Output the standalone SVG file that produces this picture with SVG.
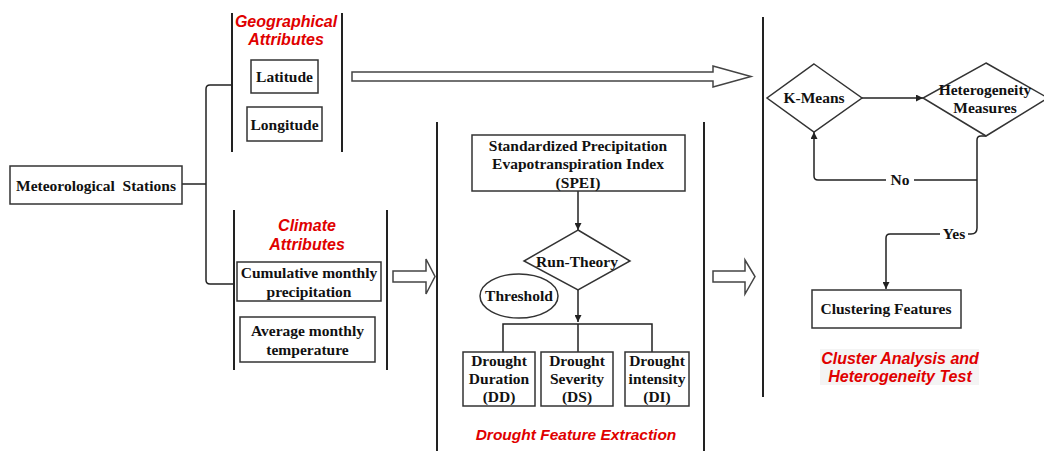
<svg xmlns="http://www.w3.org/2000/svg" width="1044" height="451" viewBox="0 0 1044 451">
<defs>
<marker id="ah" viewBox="0 0 10 10" refX="10" refY="5" markerWidth="7" markerHeight="7" markerUnits="userSpaceOnUse" orient="auto"><path d="M0,0 L10,5 L0,10 z" fill="#222"/></marker>
<style>
.box{fill:#fff;stroke:#333;stroke-width:1.5}
.bar{stroke:#222;stroke-width:2;fill:none}
.ln{stroke:#222;stroke-width:1.5;fill:none}
.t{font-family:"Liberation Serif",serif;font-weight:bold;font-size:15.5px;fill:#111;text-anchor:middle}
.r{font-family:"Liberation Sans",Arial,sans-serif;font-weight:bold;font-style:italic;font-size:16px;fill:#e00000;text-anchor:middle}
.hol{fill:#fff;stroke:#444;stroke-width:1.5}
</style>
</defs>
<rect width="1044" height="451" fill="#fff"/>

<g id="connectors">
<path class="ln" d="M182 184 H206"/>
<path class="ln" d="M232 85 H210 Q206 85 206 89 V280 Q206 284 210 284 H234"/>
<path class="ln" d="M578 191 V230" marker-end="url(#ah)"/>
<path class="ln" d="M578 290 V322" marker-end="url(#ah)"/>
<path class="ln" d="M503 352 V324 H652 V352 M578 324 V352"/>
<path class="ln" d="M862 98 H923" marker-end="url(#ah)"/>
<path class="ln" d="M986 136 H981 Q977 136 977 140 V228 Q977 234 971 234 H890 Q886 234 886 238 V289" marker-end="url(#ah)"/>
<path class="ln" d="M977 180 H818 Q814 180 814 176 V132" marker-end="url(#ah)"/>
<rect x="886" y="172" width="28" height="16" fill="#fff"/>
<text class="t" x="900" y="185">No</text>
<rect x="940" y="226" width="28" height="16" fill="#fff"/>
<text class="t" x="954" y="239">Yes</text>
<path class="hol" d="M352 72 H713 V66 L751 76.5 L713 87 V81 H352 Z"/>
<path class="hol" d="M393 271 H426 V259 L435 276.5 L426 294 V282 H393 Z"/>
<path class="hol" d="M713 271 H745 V260 L755 276.5 L745 294 V282 H713 Z"/>
</g>

<g id="stations">
<rect class="box" x="10" y="166" width="172" height="38"/>
<text class="t" x="96" y="191" xml:space="preserve">Meteorological  Stations</text>
</g>

<g id="geographical">
<path class="bar" d="M232 13 V152 M342 13 V152"/>
<text class="r" x="286" y="27">Geographical</text>
<text class="r" x="286" y="45">Attributes</text>
</g>
<g id="latitude">
<rect class="box" x="251" y="60" width="67" height="33"/>
<text class="t" x="284.5" y="82">Latitude</text>
</g>
<g id="longitude">
<rect class="box" x="247" y="107" width="75" height="34"/>
<text class="t" x="284.5" y="130">Longitude</text>
</g>

<g id="climate">
<path class="bar" d="M234 210 V370 M387 210 V370"/>
<text class="r" x="307" y="231">Climate</text>
<text class="r" x="307" y="250">Attributes</text>
</g>
<g id="precip">
<rect class="box" x="237" y="262" width="144" height="39"/>
<text class="t" x="309" y="278">Cumulative monthly</text>
<text class="t" x="309" y="297">precipitation</text>
</g>
<g id="temp">
<rect class="box" x="240" y="317" width="135" height="45"/>
<text class="t" x="307.5" y="336">Average monthly</text>
<text class="t" x="307.5" y="355">temperature</text>
</g>

<g id="drought-panel">
<path class="bar" d="M437 122 V451 M704 122 V451"/>
<text class="r" x="576" y="440" style="font-size:15.5px">Drought Feature Extraction</text>
</g>
<g id="spei">
<rect class="box" x="472" y="135" width="213" height="56"/>
<text class="t" x="578" y="151">Standardized Precipitation</text>
<text class="t" x="578" y="169">Evapotranspiration Index</text>
<text class="t" x="578" y="188">(SPEI)</text>
</g>
<g id="runtheory">
<path class="box" d="M578 230 L630 261 L578 290 L524 261 Z"/>
<text class="t" x="577" y="267">Run-Theory</text>
</g>
<g id="threshold">
<ellipse class="box" cx="519" cy="296" rx="39" ry="22"/>
<text class="t" x="519" y="301">Threshold</text>
</g>
<g id="dd">
<rect class="box" x="463" y="352" width="72" height="54"/>
<text class="t" x="499" y="366">Drought</text>
<text class="t" x="499" y="384">Duration</text>
<text class="t" x="499" y="402">(DD)</text>
</g>
<g id="ds">
<rect class="box" x="541" y="352" width="72" height="54"/>
<text class="t" x="577" y="366">Drought</text>
<text class="t" x="577" y="384">Severity</text>
<text class="t" x="577" y="402">(DS)</text>
</g>
<g id="di">
<rect class="box" x="625" y="352" width="64" height="54"/>
<text class="t" x="657" y="366">Drought</text>
<text class="t" x="657" y="384">intensity</text>
<text class="t" x="657" y="402">(DI)</text>
</g>

<g id="cluster-panel">
<path class="bar" d="M763 17 V397"/>
<rect x="820" y="349" width="159" height="36" fill="#f4f4f4"/>
<text class="r" x="900" y="364">Cluster Analysis and</text>
<text class="r" x="900" y="382">Heterogeneity Test</text>
</g>
<g id="kmeans">
<path class="box" d="M814 64 L862 98 L814 132 L767 98 Z"/>
<text class="t" x="814" y="103">K-Means</text>
</g>
<g id="hetero">
<path class="box" d="M986 63 L1048 98 L986 136 L923 98 Z"/>
<text class="t" x="985" y="95">Heterogeneity</text>
<text class="t" x="985" y="113">Measures</text>
</g>
<g id="clustering">
<rect class="box" x="812" y="290" width="149" height="38"/>
<text class="t" x="886" y="314">Clustering Features</text>
</g>
</svg>
